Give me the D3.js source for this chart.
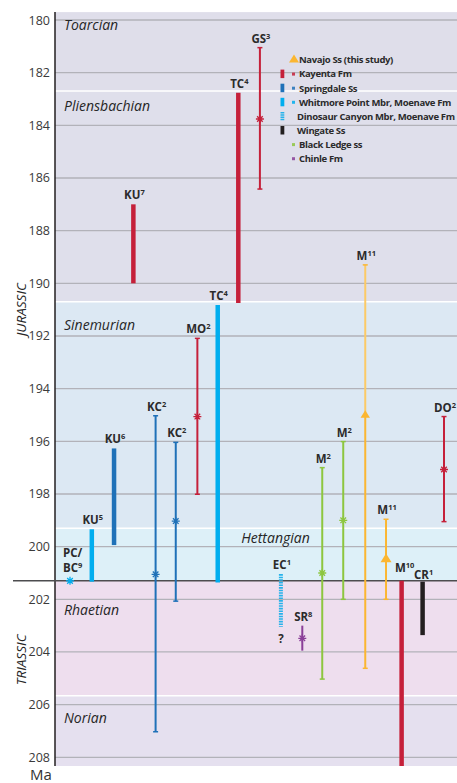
<!DOCTYPE html>
<html>
<head>
<meta charset="utf-8">
<script src="https://cdn.jsdelivr.net/npm/d3@7"></script>
<style>
  body { margin: 0; background: #fff; }
  svg { display: block; font-family: "Open Sans", "Noto Sans", sans-serif; }
</style>
</head>
<body>
<svg id="chart" width="457" height="783"></svg>
<script>
// stages (Ma)
var stageNames = ["Toarcian", "Pliensbachian", "Sinemurian", "Hettangian", "Rhaetian", "Norian"]
  , stageTop = [179.7, 182.7, 190.7, 199.3, 201.3, 205.66]
  , stageBase = [182.7, 190.7, 199.3, 201.3, 205.66, 208.33]
  , stageLabelAt = [180.38, 183.46, 191.77, 199.86, 202.6, 206.7];

var yTicks = [180, 182, 184, 186, 188, 190, 192, 194, 196, 198, 200, 202, 204, 206, 208];

// age determinations, left to right
var sampleName = ["PC/BC", "KU", "KU", "KU", "KC", "KC", "MO", "TC", "TC", "GS", "EC", "SR", "M", "M", "M", "M", "M", "CR", "DO"]
  , sampleRef = ["9", "5", "6", "7", "2", "2", "2", "4", "4", "3", "1", "8", "2", "2", "11", "11", "10", "1", "2"]
  , sampleUnit = ["whitmore", "whitmore", "springdale", "kayenta", "springdale", "springdale", "kayenta", "whitmore", "kayenta", "kayenta",
                  "dinosaur", "chinle", "blackledge", "blackledge", "navajo", "navajo", "kayenta", "wingate", "kayenta"]
  , sampleCol = [0, 1.05, 2.12, 3.05, 4.12, 5.09, 6.13, 7.11, 8.1, 9.14, 10.15, 11.18, 12.14, 13.15, 14.21, 15.21, 15.96, 16.97, 18]
  , sampleYoung = [null, 199.34, 196.27, 187.0, 195.03, 196.04, 192.09, 190.82, 182.76, 181.05, 201.04, 203.0, 197.0, 196.01, 189.3, 198.96, 201.3, 201.33, 195.06]
  , sampleOld = [null, 201.33, 199.94, 190.0, 207.03, 202.07, 198.01, 201.36, 190.75, 186.42, 203.04, 203.95, 205.03, 202.0, 204.62, 202.0, 208.33, 203.36, 199.05]
  , sampleBest = [201.3, null, null, null, 201.05, 199.03, 195.06, null, null, 183.76, null, 203.48, 201.0, 199.0, 194.96, 200.43, null, null, 197.07];

// legend
var legendNames = ["Navajo Ss (this study)", "Kayenta Fm", "Springdale Ss", "Whitmore Point Mbr, Moenave Fm",
                   "Dinosaur Canyon Mbr, Moenave Fm", "Wingate Ss", "Black Ledge ss", "Chinle Fm"]
  , legendKeys = ["navajo", "kayenta", "springdale", "whitmore", "dinosaur", "wingate", "blackledge", "chinle"];

var color = {
  navajo: "#fbb631", navajoLight: "#fcca66", kayenta: "#c5203a", springdale: "#1f71b8", whitmore: "#00aeef",
  dinosaur: "#27b2ea", wingate: "#231f20", blackledge: "#8dc63f", chinle: "#8a3f98"
};
var stageFill = ["#dfdeea", "#dfdfeb", "#dce8f3", "#ddf0f8", "#eedeee", "#e5e0ef"];

var svg = d3.select("#chart")
  , left = 55
  , right = 457;

var y = d3.scaleLinear().domain([180, 208]).range([20, 757.3]);
var x = d3.scaleLinear().domain([0, 18]).range([70, 444]);

// stage bands
svg.selectAll(".stage")
  .data(stageNames)
 .enter().append("rect")
  .attr("x", left)
  .attr("y", (d, i) => y(stageTop[i]))
  .attr("width", right - left)
  .attr("height", (d, i) => y(stageBase[i]) - y(stageTop[i]))
  .style("fill", (d, i) => stageFill[i]);

// white separators between stages
svg.selectAll(".sep")
  .data(stageTop.slice(1).filter(d => d != 201.3))
 .enter().append("line")
  .attr("x1", left).attr("x2", right)
  .attr("y1", d => y(d)).attr("y2", d => y(d))
  .style("stroke", "#fff").style("stroke-width", 1.5);

// grid
svg.selectAll(".grid")
  .data(yTicks)
 .enter().append("line")
  .attr("x1", left).attr("x2", right)
  .attr("y1", d => y(d)).attr("y2", d => y(d))
  .style("stroke", "#b2b2b9").style("stroke-width", 1.3);

// axis
var axis = svg.append("g")
  .attr("transform", "translate(" + left + ",0)")
  .call(d3.axisLeft(y).tickValues(yTicks).tickSize(0).tickPadding(5));
axis.select(".domain").remove();
axis.selectAll("text")
  .style("font-family", "'Open Sans', sans-serif")
  .style("font-size", "12.5px")
  .style("fill", "#3a3a3a");

svg.append("line")
  .attr("x1", left).attr("x2", left)
  .attr("y1", y(179.7)).attr("y2", y(208.33))
  .style("stroke", "#231f20").style("stroke-width", 1.5);

// Jurassic / Triassic boundary
svg.append("line")
  .attr("x1", 13).attr("x2", right)
  .attr("y1", y(201.3)).attr("y2", y(201.3))
  .style("stroke", "#4d4d4f").style("stroke-width", 1.5);

// stage labels
svg.selectAll(".stage-label")
  .data(stageNames)
 .enter().append("text")
  .attr("x", d => d == "Hettangian" ? 275.5 : 64)
  .attr("y", (d, i) => y(stageLabelAt[i]))
  .attr("text-anchor", d => d == "Hettangian" ? "middle" : "start")
  .style("font-style", "italic")
  .style("font-size", "14px")
  .style("fill", "#262626")
  .text(d => d);

// periods
[["JURASSIC", 191.0], ["TRIASSIC", 204.3]].forEach(function(p){
  svg.append("text")
    .attr("transform", "translate(26," + y(p[1]) + ") rotate(-90)")
    .attr("text-anchor", "middle")
    .style("font-style", "italic")
    .style("font-size", "13.5px")
    .style("fill", "#262626")
    .text(p[0]);
});

svg.append("text")
  .attr("x", 30).attr("y", 780)
  .style("font-size", "15px")
  .style("fill", "#333")
  .text("Ma");

// asterisk marker
function asterisk(g, cx, cy, c){
  var r = 4, s = r * 0.7;
  g.append("path")
    .attr("d", "M" + (cx - r) + "," + cy + "L" + (cx + r) + "," + cy +
               "M" + cx + "," + (cy - r) + "L" + cx + "," + (cy + r) +
               "M" + (cx - s) + "," + (cy - s) + "L" + (cx + s) + "," + (cy + s) +
               "M" + (cx - s) + "," + (cy + s) + "L" + (cx + s) + "," + (cy - s))
    .style("stroke", c).style("stroke-width", 1.3).style("fill", "none");
}

function triangle(g, cx, cy, w, c){
  var h = w * 0.8;
  g.append("path")
    .attr("d", "M" + cx + "," + (cy - h / 2) + "L" + (cx + w / 2) + "," + (cy + h / 2) + "L" + (cx - w / 2) + "," + (cy + h / 2) + "Z")
    .style("fill", c);
}

var marks = svg.append("g");

sampleName.forEach(function(name, i){
  var cx = x(sampleCol[i])
    , c = color[sampleUnit[i]]
    , g = marks.append("g");

  if (sampleYoung[i] != null) {
    var y1 = y(sampleYoung[i]), y2 = y(sampleOld[i]);
    if (sampleUnit[i] == "dinosaur") {
      g.append("line")
        .attr("x1", cx).attr("x2", cx).attr("y1", y1).attr("y2", y2)
        .style("stroke", c).style("stroke-width", 4).style("stroke-dasharray", "1.6,1");
    } else if (sampleBest[i] == null) {
      // range only: thick bar
      g.append("line")
        .attr("x1", cx).attr("x2", cx).attr("y1", y1).attr("y2", y2)
        .style("stroke", c).style("stroke-width", 4.5);
    } else if (sampleUnit[i] == "navajo") {
      g.append("line")
        .attr("x1", cx).attr("x2", cx).attr("y1", y1).attr("y2", y(sampleBest[i]))
        .style("stroke", sampleOld[i] - sampleYoung[i] > 10 ? color.navajoLight : c).style("stroke-width", 2);
      g.append("line")
        .attr("x1", cx).attr("x2", cx).attr("y1", y(sampleBest[i])).attr("y2", y2)
        .style("stroke", c).style("stroke-width", 2);
      [y1, y2].forEach(function(yy){
        g.append("line").attr("x1", cx - 2.5).attr("x2", cx + 2.5).attr("y1", yy).attr("y2", yy)
          .style("stroke", c).style("stroke-width", 1.5);
      });
      triangle(g, cx, y(sampleBest[i]), sampleOld[i] - sampleYoung[i] > 10 ? 9.5 : 11, c);
    } else {
      g.append("line")
        .attr("x1", cx).attr("x2", cx).attr("y1", y1).attr("y2", y2)
        .style("stroke", c).style("stroke-width", 2);
      if (name != "SR") {
        [y1, y2].forEach(function(yy){
          g.append("line").attr("x1", cx - 2.5).attr("x2", cx + 2.5).attr("y1", yy).attr("y2", yy)
            .style("stroke", c).style("stroke-width", 1.5);
        });
      }
      asterisk(g, cx, y(sampleBest[i]), c);
    }
  } else {
    asterisk(g, cx, y(sampleBest[i]), c);
  }

  // label
  var lab;
  if (name == "PC/BC") {
    g.append("text").attr("x", 63).attr("y", y(201.3) - 24)
      .attr("class", "lab").text("PC/");
    lab = g.append("text").attr("x", 63).attr("y", y(201.3) - 9).attr("class", "lab");
    lab.append("tspan").text("BC");
  } else {
    var ly = y(sampleYoung[i]) - 5;
    if (name == "M" && sampleRef[i] == "10") ly = y(sampleYoung[i]) - 9;
    if (name == "CR") ly = y(sampleYoung[i]) - 3;
    lab = g.append("text")
      .attr("x", cx + (name == "M" && sampleRef[i] == "10" ? 3 : 1))
      .attr("y", ly)
      .attr("text-anchor", "middle")
      .attr("class", "lab");
    lab.append("tspan").text(name);
  }
  lab.append("tspan").attr("dy", -4).style("font-size", "7.5px").text(sampleRef[i]);
  if (name == "EC") {
    g.append("text").attr("x", cx).attr("y", y(203.5) + 4).attr("text-anchor", "middle")
      .attr("class", "lab").style("font-size", "9px").text("?");
  }
});

svg.selectAll(".lab")
  .style("font-size", "11.5px")
  .style("font-weight", "bold")
  .style("fill", "#2b2b2b");

// legend
var ly = d3.scalePoint().domain(legendKeys).range([60, 158.7]);
var legend = svg.append("g");
legendKeys.forEach(function(k, i){
  var cy = ly(k), c = color[k];
  if (k == "navajo") triangle(legend, 294, cy - 1.5, 10, c);
  if (["kayenta", "springdale", "whitmore", "wingate"].indexOf(k) >= 0) {
    legend.append("rect").attr("x", 280.5).attr("y", cy - 4.5).attr("width", 3.8).attr("height", 8.5)
      .style("fill", c);
  }
  if (k == "dinosaur") {
    legend.append("line").attr("x1", 282.4).attr("x2", 282.4).attr("y1", cy - 4.5).attr("y2", cy + 4)
      .style("stroke", c).style("stroke-width", 3.8).style("stroke-dasharray", "1.5,0.8");
  }
  if (["kayenta", "springdale", "whitmore", "blackledge", "chinle"].indexOf(k) >= 0) {
    legend.append("rect").attr("x", 292).attr("y", cy - 1.5).attr("width", 3).attr("height", 3)
      .style("fill", c).style("opacity", 0.85);
  }
  legend.append("text")
    .attr("x", ["dinosaur", "wingate"].indexOf(k) >= 0 ? 297 : 299)
    .attr("y", cy + 3.3)
    .style("font-size", "9.5px")
    .style("font-weight", "bold")
    .style("letter-spacing", "-0.35px")
    .style("fill", "#2b2b2b")
    .text(legendNames[i]);
});
</script>
</body>
</html>
